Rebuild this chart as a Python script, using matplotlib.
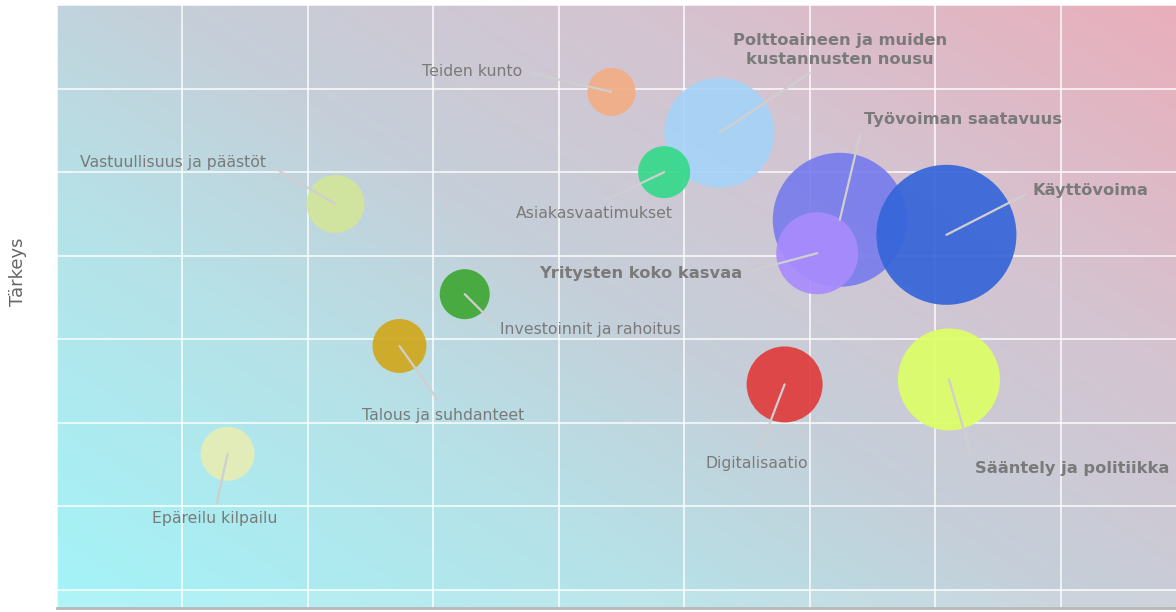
import numpy as np
import matplotlib
matplotlib.use('agg')
import matplotlib.pyplot as plt
from matplotlib.colors import LinearSegmentedColormap

# data
names = ["Teiden kunto", "Polttoaineen ja muiden\nkustannusten nousu", "Asiakasvaatimukset",
         "Vastuullisuus ja päästöt", "Työvoiman saatavuus", "Käyttövoima",
         "Yritysten koko kasvaa", "Investoinnit ja rahoitus", "Talous ja suhdanteet",
         "Digitalisaatio", "Sääntely ja politiikka", "Epäreilu kilpailu"]
x_vals = [4.42, 5.28, 4.84, 2.22, 6.24, 7.09, 6.06, 3.25, 2.73, 5.80, 7.11, 1.36]
y_vals = [5.96, 5.47, 5.00, 4.62, 4.43, 4.25, 4.03, 3.54, 2.92, 2.46, 2.52, 1.63]
bubble = [24, 55, 26, 29, 67, 70, 41, 25, 27, 38, 51, 27]
colors = ["#f2ad85", "#a6d3f8", "#36d98a", "#d2e59a", "#777cec", "#3565d9",
          "#a98bfd", "#3fa735", "#d1a71c", "#e03c3c", "#deff66", "#e6edb4"]
bold = [False, True, False, False, True, True, True, False, False, False, True, False]

# label placement (data units) and alignment
lab_x = [3.71, 6.24, 4.28, 1.665, 6.43, 7.78, 5.46, 3.53, 3.08, 5.58, 7.32, 1.26]
lab_y = [6.21, 6.46, 4.51, 5.11, 5.63, 4.78, 3.79, 3.12, 2.09, 1.51, 1.45, 0.85]
lab_ha = ["right", "center", "center", "right", "left", "left", "right", "left",
          "center", "center", "left", "center"]
lab_rel = [(1, 0.5), (0.4, 0), (0.5, 1), (1, 0.5), (0, 0.5), (0, 0.5), (1, 0.5),
           (0, 0.5), (0.5, 1), (0.5, 1), (0, 0.5), (0.5, 1)]

fig = plt.figure(figsize=(11.76, 6.12), dpi=100)
ax = fig.add_axes([57/1176, 4/612, 1 - 57/1176, 603/612])
xmax, ymin, ymax = 8.92, -0.215, 7.0

# diagonal gradient background
cmap = LinearSegmentedColormap.from_list(
    "bg", [(0, "#a3f4f8"), (0.3, "#b5e2e8"), (0.5, "#c5cfd9"),
           (0.72, "#d4c4d1"), (1, "#eaaebb")])
gx, gy = np.meshgrid(np.linspace(0, 1, 400), np.linspace(0, 1, 200))
grad = (gx * 0.55 + gy * 0.45)
ax.imshow(grad, extent=[0, xmax, ymin, ymax], origin="lower", cmap=cmap,
          aspect="auto", zorder=0)
ax.axhspan(ymin, 0, color="white", alpha=0.12, zorder=0.5)

ax.set_xlim(0, xmax)
ax.set_ylim(ymin, ymax)
ax.set_xticks(range(0, 9))
ax.set_yticks(range(0, 8))
ax.grid(True, color="white", lw=1.3, alpha=0.8, zorder=1)
ax.tick_params(length=0, labelleft=False, labelbottom=False)
for s in ax.spines.values():
    s.set_visible(False)
ax.spines["bottom"].set_visible(True)
ax.spines["bottom"].set_color("#b8b8b8")
ax.spines["bottom"].set_linewidth(2)

for i in range(len(names)):
    d = 2 * bubble[i] * 0.72
    ax.scatter(x_vals[i], y_vals[i], s=d ** 2, color=colors[i], alpha=0.92,
               edgecolors="none", zorder=3 + i * 0.01)

for i in range(len(names)):
    ax.annotate(names[i], xy=(x_vals[i], y_vals[i]), xytext=(lab_x[i], lab_y[i]),
                ha=lab_ha[i], va="center", color="#7a7a7a",
                fontsize=11.7 if bold[i] else 11.3,
                fontweight="bold" if bold[i] else "normal",
                linespacing=1.35,
                arrowprops=dict(arrowstyle="-", color="#cfcfcf", lw=1.6,
                                shrinkA=4, shrinkB=0, relpos=lab_rel[i]),
                zorder=5)

fig.text(18/1176, 1 - 272/612, "Tärkeys", rotation=90, ha="center", va="center",
         fontsize=13, color="#666666")

fig.savefig("out.png", dpi=100)
